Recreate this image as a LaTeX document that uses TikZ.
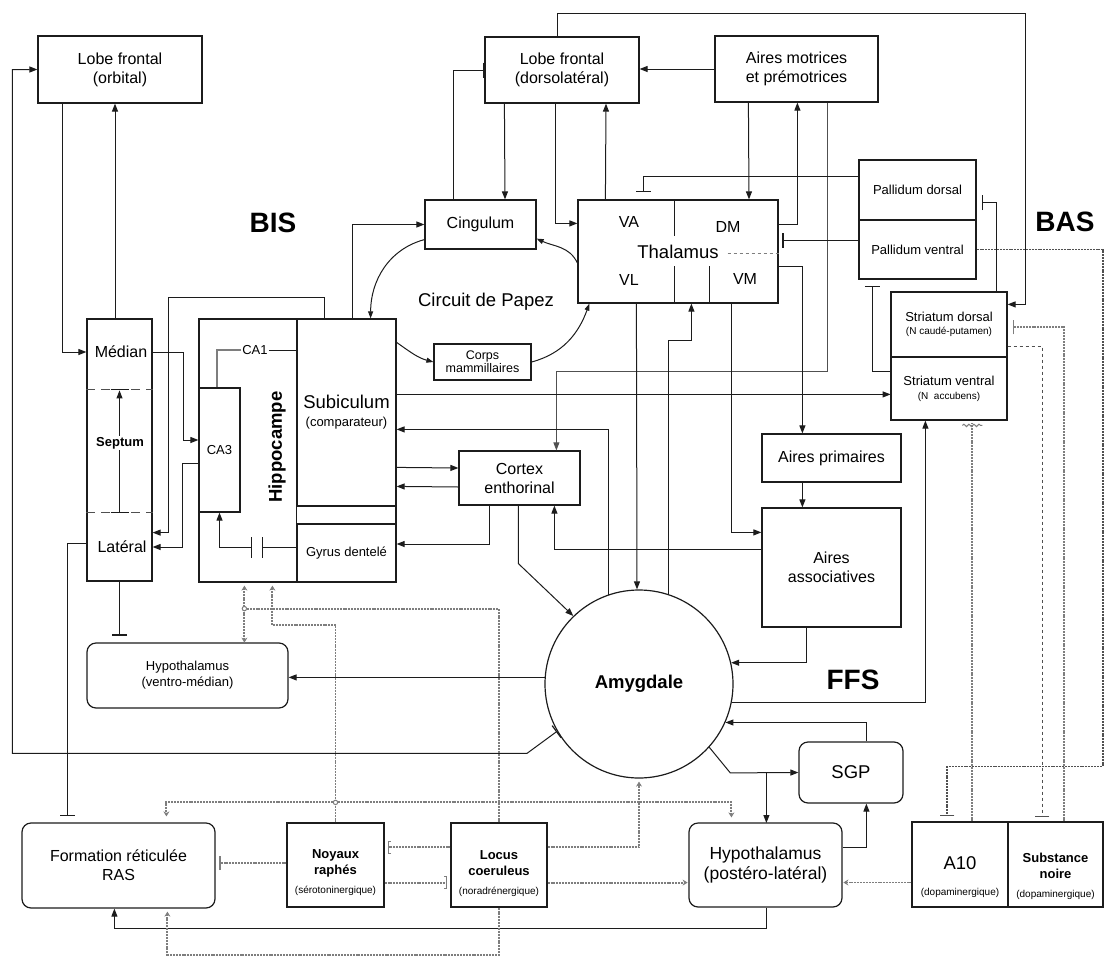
\documentclass[tikz,border=0pt]{standalone}
\usepackage{fontspec}
\setmainfont{Liberation Sans}
\usetikzlibrary{arrows.meta, positioning, calc, decorations.pathmorphing}
\definecolor{inkdark}{HTML}{1C1C1C}
\definecolor{inkgray}{HTML}{7E7E7E}
\definecolor{inkmid}{HTML}{505050}

\tikzset{
  fnorm/.style={font=\fontsize{16}{19}\selectfont},
  flarge/.style={font=\fontsize{18.5}{22}\selectfont},
  fmid/.style={font=\fontsize{13}{16}\selectfont},
  fbold/.style={font=\bfseries\fontsize{13}{16}\selectfont},
  ftiny/.style={font=\fontsize{10}{12}\selectfont},
  heading/.style={inner sep=0pt, font=\bfseries\fontsize{28}{32}\selectfont},
  box/.style={draw=inkdark, line width=1.2pt, inner sep=0pt, align=center, fnorm},
  rbox/.style={box, rounded corners=9pt},
  tag/.style={inner sep=1pt, align=center, fnorm},
  link/.style={draw=inkdark, line width=1pt},
  arr/.style={link, -{Triangle[length=8pt,width=6pt]}},
  tee/.style={link, -{Bar[width=15pt,line width=1.2pt]}},
  graylink/.style={draw=inkgray, line width=1.5pt},
  thinlink/.style={draw=inkmid, line width=0.7pt},
  dotlink/.style={draw=inkgray, line width=1.9pt, dash pattern=on 2pt off 0.9pt},
  dotarr/.style={dotlink, -{Stealth[length=5pt,width=6pt]}},
  dottee/.style={dotlink, -{Bar[width=14pt]}},
  dotbrace/.style={dotlink, shorten >=3pt, -{Bracket[width=13pt,length=3pt,line width=1pt]}},
  junct/.style={draw=inkgray, fill=white, line width=1pt}
}

\begin{document}
\begin{tikzpicture}[x=1pt, y=-1pt]
    \useasboundingbox (0,0) rectangle (1104,959);

    % Frontal cortex row
    \node[box, minimum width=164pt, minimum height=67pt] (orbital) at (120,69.5) {Lobe frontal\\(orbital)};
    \node[box, minimum width=154pt, minimum height=66pt] (dorsolat) at (562,70) {Lobe frontal\\(dorsolatéral)};
    \node[box, minimum width=163pt, minimum height=66pt] (motrices) at (796.5,69) {Aires motrices\\et prémotrices};

    % Papez circuit and thalamus
    \node[box, minimum width=111pt, minimum height=49pt] (cingulum) at (480.5,224.5) {Cingulum};
    \node[box, minimum width=200pt, minimum height=103pt, flarge] (thalamus) at (678,251.5) {Thalamus};
    \node[tag] (va) at (629,222) {VA};
    \node[tag] (dm) at (728,227) {DM};
    \node[tag] (vl) at (629,280) {VL};
    \node[tag] (vm) at (745,279) {VM};
    \draw[link] ([xshift=97pt]thalamus.north west) -- ++(0,37);
    \draw[link] ([xshift=97pt]thalamus.south west) -- ++(0,-38);
    \draw[link] ([xshift=132pt]thalamus.south west) -- ++(0,-38);
    \draw[inkgray, dashed, line width=1pt] ([xshift=-51pt,yshift=-1.5pt]thalamus.east) -- ([yshift=-1.5pt]thalamus.east);
    \node[box, minimum width=97pt, minimum height=36pt, font=\fontsize{12.5}{13}\selectfont] (mammill) at (482.5,362) {Corps\\mammillaires};
    \node[tag, flarge] (papez) at (486,302) {Circuit de Papez};

    % Basal ganglia
    \node[box, minimum width=117pt, minimum height=60pt, fmid] (pdorsal) at (917.5,190) {Pallidum dorsal};
    \node[box, minimum width=117pt, minimum height=59pt, fmid] (pventral) at (917.5,249.5) {Pallidum ventral};
    \node[box, minimum width=116pt, minimum height=65pt, fmid] (sdorsal) at (949,324.5) {Striatum dorsal\\[-3pt]{\fontsize{10}{12}\selectfont(N caudé-putamen)}};
    \node[box, minimum width=116pt, minimum height=63pt, fmid] (sventral) at (949,388.5) {Striatum ventral\\[-2pt]{\fontsize{10}{12}\selectfont(N\ \ accubens)}};

    % Septum
    \node[box, minimum width=65pt, minimum height=262pt] (septum) at (119.5,450) {};
    \node[tag] (median) at (121,352) {Médian};
    \node[tag] (lateral) at (122,547) {Latéral};
    \draw[inkmid, line width=1.5pt, dash pattern=on 9pt off 6pt] ([yshift=-71pt]septum.north west) -- ([yshift=-71pt]septum.north east);
    \draw[inkmid, line width=1.5pt, dash pattern=on 9pt off 6pt] ([yshift=69pt]septum.south west) -- ([yshift=69pt]septum.south east);
    \draw[link] ([xshift=-9pt,yshift=-71pt]septum.north) -- ++(18,0);
    \draw[link] ([xshift=-9pt,yshift=69pt]septum.south) -- ++(18,0);
    \draw[arr] ([yshift=69pt]septum.south) -- ([yshift=-72pt]septum.north);
    \node[tag, fill=white, fbold] (septumlbl) at (120,443) {Septum};

    % Hippocampus
    \node[box, minimum width=197pt, minimum height=263pt] (hippo) at (297.5,450.5) {};
    \node[box, minimum width=99pt, minimum height=187pt, flarge] (subiculum) at (346.5,412.5) {Subiculum\\[-4pt]{\fontsize{13}{16}\selectfont(comparateur)}};
    \node[box, minimum width=99pt, minimum height=58pt, fmid] (gyrus) at (346.5,553) {Gyrus dentelé};
    \draw[link] (subiculum.south west) -- (gyrus.north west);
    \node[box, minimum width=41pt, minimum height=124pt, fmid] (ca3) at (219.5,450) {CA3};
    \node[tag, fmid] (ca1) at (255,350) {CA1};
    \node[tag, rotate=90, font=\bfseries\fontsize{18.5}{22}\selectfont] (hippolbl) at (277,447) {Hippocampe};

    % Cortex and associative areas
    \node[box, minimum width=121pt, minimum height=54pt] (cortex) at (519.5,478) {Cortex\\enthorinal};
    \node[box, minimum width=139pt, minimum height=48pt] (primaires) at (831.5,458) {Aires primaires};
    \node[box, minimum width=139pt, minimum height=119pt] (associat) at (831.5,567.5) {Aires\\associatives};

    % Amygdala and hypothalamus
    \node[circle, draw=inkdark, line width=1.2pt, minimum size=188pt, inner sep=0pt, font=\bfseries\fontsize{18.5}{22}\selectfont] (amygdale) at (639,684) {Amygdale};
    \node[rbox, minimum width=201pt, minimum height=65pt, fmid] (hypovm) at (187.5,675.5) {Hypothalamus\\(ventro-médian)};
    \node[rbox, minimum width=104pt, minimum height=61pt, flarge] (sgp) at (851,772.5) {SGP};
    \node[rbox, minimum width=153pt, minimum height=84pt, font=\fontsize{17.5}{20}\selectfont] (hypopl) at (765.5,865) {Hypothalamus\\(postéro-latéral)};

    % Brainstem nuclei
    \node[rbox, minimum width=193pt, minimum height=85pt] (formation) at (118.5,865.5) {Formation réticulée\\RAS};
    \node[box, minimum width=97pt, minimum height=84pt] (raphes) at (335.5,865) {};
    \node[tag, fbold] (raphestxt) at (335.5,863) {Noyaux\\raphés};
    \node[tag, ftiny] (raphessub) at (335.5,891) {(sérotoninergique)};
    \node[box, minimum width=96pt, minimum height=84pt] (locus) at (499,865) {};
    \node[tag, fbold] (locustxt) at (499,863) {Locus\\coeruleus};
    \node[tag, ftiny] (locussub) at (499,892) {(noradrénergique)};
    \node[box, minimum width=96pt, minimum height=85pt] (a10) at (960,864.5) {};
    \node[tag, flarge] (a10txt) at (960,863) {A10};
    \node[tag, ftiny] (a10sub) at (960,893) {(dopaminergique)};
    \node[box, minimum width=95pt, minimum height=85pt] (snoire) at (1055.5,864.5) {};
    \node[tag, fbold] (snoiretxt) at (1055.5,866) {Substance\\noire};
    \node[tag, ftiny] (snoiresub) at (1055.5,895) {(dopaminergique)};

    % System labels
    \node[heading] (bis) at (273,223) {BIS};
    \node[heading] (bas) at (1065,222) {BAS};
    \node[heading] (ffs) at (853,680) {FFS};

    % Frontal connections
    \draw[arr] ([xshift=25pt]orbital.south west) |- (septum.west |- median);
    \draw[arr] ([xshift=-4.5pt]septum.north) -- ([xshift=-5pt]orbital.south);
    \draw[link, {Bar[width=15pt,line width=1.2pt]}-{Triangle[length=8pt,width=6pt]}] (amygdale.210) -- ++(-30,22) -- ++(-514.6,0) |- (orbital.west);
    \draw[tee] ([xshift=29pt]cingulum.north west) |- (dorsolat.west);
    \draw[arr] ([xshift=20pt]dorsolat.south west) -- ([xshift=24.5pt]cingulum.north);
    \draw[arr] ([xshift=71pt]dorsolat.south west) |- ([yshift=-24pt]thalamus.north west);
    \draw[arr] ([xshift=28pt]thalamus.north west) -- ([xshift=44pt]dorsolat.south);
    \draw[arr] (motrices.west) -- (motrices.west -| dorsolat.east);
    \draw[arr] ([xshift=34pt]motrices.south west) -- ([xshift=71pt]thalamus.north);
    \draw[arr] ([yshift=-25pt]thalamus.north east) -| ([xshift=83pt]motrices.south west);
    \draw[arr] ([xshift=73pt]dorsolat.north west) -- ++(0,-23) -| ([xshift=18pt,yshift=-13pt]sdorsal.north east) -- ([yshift=-13pt]sdorsal.north east);
    \draw[thinlink, -{Triangle[length=8pt,width=6pt]}] ([xshift=113pt]motrices.south west) -- ++(0,269) -| ([xshift=98pt]cortex.north west);

    % Basal ganglia loops
    \draw[tee] ([yshift=-17pt]pdorsal.north west) -| ([xshift=66pt,yshift=7pt]thalamus.north west);
    \draw[tee] ([yshift=-21pt]pventral.north west) -- ++(-76,0);
    \draw[tee] ([xshift=-11pt]sdorsal.north east) |- ([xshift=5pt,yshift=18pt]pdorsal.south east);
    \draw[tee] ([yshift=49pt]sventral.south west) -| ([xshift=14pt,yshift=-6pt]pventral.south west);

    % Thalamic outputs
    \draw[arr] ([yshift=-67pt]thalamus.north east) -| ([xshift=41pt]primaires.north west);
    \draw[arr] ([xshift=59pt]thalamus.south west) -- ([xshift=-2pt]amygdale.north);
    \draw[arr] (amygdale.72) |- ([xshift=114pt,yshift=-37pt]thalamus.south west) -- ([xshift=114pt]thalamus.south west);
    \draw[arr] ([xshift=154pt]thalamus.south west) |- ([yshift=-25pt]associat.north west);

    % Papez circuit
    \draw[link, -{Triangle[length=7pt,width=5pt]}] ([yshift=10pt]cingulum.south west) to[out=195,in=90] ([xshift=-26pt]hippo.north east);
    \draw[link, -{Triangle[length=7pt,width=5pt]}] ([yshift=-24pt]hippo.north east) to[out=-35,in=165] (mammill.west);
    \draw[link, -{Triangle[length=7pt,width=5pt]}] (mammill.east) to[out=15,in=250] ([xshift=12pt]thalamus.south west);
    \draw[link, -{Triangle[length=7pt,width=5pt]}] ([yshift=-11.5pt]thalamus.west) to[out=115,in=-25] ([yshift=11pt]cingulum.south east);

    % Septo-hippocampal connections
    \draw[arr] (septum.east |- median) -- ++(31,0) |- ([yshift=10pt]ca3.west);
    \draw[arr] ([yshift=-13pt]ca3.west) -- ++(-16,0) |- (septum.east |- lateral);
    \draw[arr] ([xshift=-72pt]hippo.north east) -- ++(0,-21) -| ([xshift=16pt,yshift=49pt]septum.south east) -- ([yshift=49pt]septum.south east);
    \draw[arr] ([xshift=-44pt]hippo.north east) |- (cingulum.west);
    \draw[graylink] ([xshift=-2.5pt]ca3.north) |- (ca1.west);
    \draw[link] (ca1.east) -- (ca1.east -| subiculum.west);
    \draw[link] ([yshift=6pt]gyrus.west) -- ++(-34,0) +(0,-10) -- +(0,11);
    \draw[link] ([xshift=-45pt,yshift=6pt]gyrus.west) +(0,-10) -- +(0,11);
    \draw[arr] ([xshift=-45pt,yshift=6pt]gyrus.west) -| (ca3.south);
    \draw[tee] (septum.south) -- ++(0,54);
    \draw[tee] ([yshift=38pt]septum.south west) -| ([xshift=46pt,yshift=6pt]formation.north west);

    % Hippocampus, cortex and amygdala
    \draw[arr] ([yshift=-76pt]hippo.north east) -- ++(494,0);
    \draw[arr] (amygdale.109) |- ([yshift=-111pt]hippo.north east);
    \draw[arr] ([yshift=-149pt]hippo.north east) -- ([yshift=10pt]cortex.west);
    \draw[arr] ([yshift=-9pt]cortex.west) -- ([yshift=-168pt]hippo.north east);
    \draw[arr] ([xshift=31pt]cortex.south west) |- ([yshift=9pt]gyrus.east);
    \draw[arr] ([xshift=60pt]cortex.south west) -- ++(0,58) -- (amygdale.134);
    \draw[arr] ([yshift=-42pt]associat.north west) -| ([xshift=96pt]cortex.south west);
    \draw[arr] ([xshift=41pt]primaires.south west) -- ([xshift=41pt]associat.north west);
    \draw[arr] ([xshift=45pt]associat.south west) |- (amygdale.13);
    \draw[arr] (amygdale.349) -| ([xshift=35pt]sventral.south west);
    \draw[arr] (amygdale.176) -- (amygdale.176 -| hypovm.east);

    % Amygdala, SGP and hypothalamus
    \draw[arr] ([xshift=68pt]sgp.north west) |- (amygdale.336);
    \draw[arr] (amygdale.318) -- ++(21,25.6) -- (sgp.west);
    \draw[arr] ([xshift=-32pt]sgp.west) -- ++(0,50.5);
    \draw[arr] ([yshift=-25pt]hypopl.north east) -| ([xshift=68pt]sgp.south west);
    \draw[arr] ([xshift=78pt]hypopl.south west) -- ++(0,21) -| ([xshift=93pt]formation.south west);

    % Monoaminergic projections
    \draw[dotarr] (locus.north) |- ([xshift=46pt,yshift=-26pt]hippo.south west) -- ([xshift=46pt,yshift=-3pt]hippo.south west);
    \draw[dotarr] ([xshift=46pt,yshift=-26pt]hippo.south west) -- ++(0,34);
    \draw[dotarr] (raphes.north) |- ([xshift=74pt,yshift=-42pt]hippo.south west) -- ([xshift=74pt,yshift=-3pt]hippo.south west);
    \draw[dotarr] ([yshift=20pt]raphes.north) -| ([xshift=145pt,yshift=6pt]formation.north west);
    \draw[dotarr] ([yshift=20pt]raphes.north) -| ([xshift=43pt,yshift=5pt]hypopl.north west);
    \draw[dotarr] (locus.south) -- ++(0,47) -| ([xshift=146pt,yshift=-3pt]formation.south west);
    \draw[dotarr] ([yshift=-25pt]locus.north east) -| ([yshift=-3pt]amygdale.south);
    \draw[dotarr] ([yshift=25pt]locus.south east) -- ++(140,0);
    \draw[dotbrace] ([yshift=25pt]raphes.south east) -- ([yshift=25pt]locus.south west);
    \draw[dotbrace] ([yshift=-25pt]locus.north west) -- ([yshift=-25pt]raphes.north east);
    \draw[dottee] ([yshift=2pt]raphes.west) -- ++(-67,0);
    \draw[dotarr] ([yshift=-18pt]a10.west) -- ++(-68,0);
    \draw[junct] ([xshift=46pt,yshift=-26pt]hippo.south west) circle (2.2pt);
    \draw[junct] ([yshift=20pt]raphes.north) circle (2.2pt);

    % Dopaminergic loops
    \draw[dotlink, draw=inkmid, -{Bar[width=14pt]}] (pventral.east) -- ++(126,0) -- ++(0,517) -| ([xshift=36pt,yshift=5pt]a10.north west);
    \draw[dotlink, -{Bar[width=14pt,line width=1.6pt]}] ([xshift=57pt]snoire.north west) |- ([xshift=5pt,yshift=-36pt]sdorsal.north east);
    \draw[thinlink, dashed, -{Bar[width=14pt]}] ([yshift=-55pt]sdorsal.north east) -| ([xshift=35pt,yshift=5pt]snoire.north west);
    \draw[dotlink] ([xshift=61pt]a10.north west) -- ++(0,-398);
    \draw[inkgray, line width=1pt, decorate, decoration={snake, amplitude=1.2pt, segment length=5pt}] ([xshift=51pt,yshift=396pt]a10.north west) -- ++(20,0);
\end{tikzpicture}
\end{document}
